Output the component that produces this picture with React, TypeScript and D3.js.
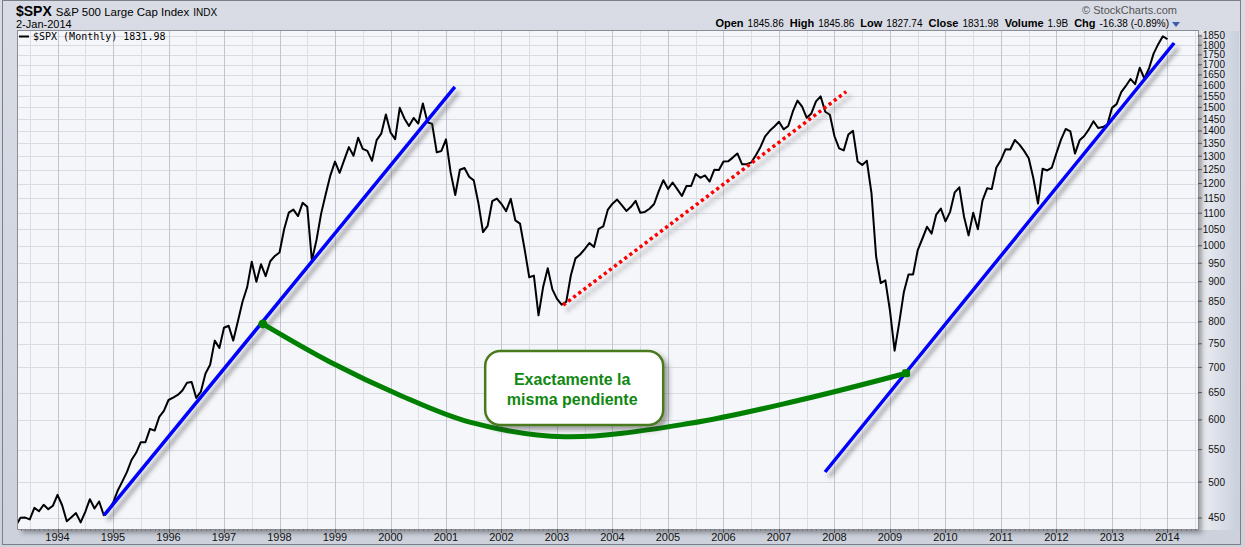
import * as d3 from 'd3'

// monthly closes of $SPX, first value = Apr 1993, last = Jan 2014
const startYear = 1993
const startMonth = 3
const monthlyCloses = [
  440.19, 450.19, 450.53, 448.13, 463.56, 458.93, 467.83, 461.79, 466.45,
  481.61, 467.14, 445.77, 450.91, 456.5, 444.27, 458.26, 475.49, 462.69, 472.35, 453.69, 459.27,
  470.42, 487.39, 500.71, 514.71, 533.4, 544.75, 562.06, 561.88, 584.41, 581.5, 605.37, 615.93,
  636.02, 640.43, 645.5, 654.17, 669.12, 670.63, 639.95, 651.99, 687.31, 705.27, 757.02, 740.74,
  786.16, 790.82, 757.12, 801.34, 848.28, 885.14, 954.29, 899.47, 947.28, 914.62, 955.4, 970.43,
  980.28, 1049.34, 1101.75, 1111.75, 1090.82, 1133.84, 1120.67, 957.28, 1017.01, 1098.67, 1163.63, 1229.23,
  1279.64, 1238.33, 1286.37, 1335.18, 1301.84, 1372.71, 1328.72, 1320.41, 1282.71, 1362.93, 1388.91, 1469.25,
  1394.46, 1366.42, 1498.58, 1452.43, 1420.6, 1454.6, 1430.83, 1517.68, 1436.51, 1429.4, 1314.95, 1320.28,
  1366.01, 1239.94, 1160.33, 1249.46, 1255.82, 1224.42, 1211.23, 1133.58, 1040.94, 1059.78, 1139.45, 1148.08,
  1130.2, 1106.73, 1147.39, 1076.92, 1067.14, 989.82, 911.62, 916.07, 815.28, 885.76, 936.31, 879.82,
  855.7, 841.15, 848.18, 916.92, 963.59, 974.5, 990.31, 1008.01, 995.97, 1050.71, 1058.2, 1111.92,
  1131.13, 1144.94, 1126.21, 1107.3, 1120.68, 1140.84, 1101.72, 1104.24, 1114.58, 1130.2, 1173.82, 1211.92,
  1181.27, 1203.6, 1180.59, 1156.85, 1191.5, 1191.33, 1234.18, 1220.33, 1228.81, 1207.01, 1249.48, 1248.29,
  1280.08, 1280.66, 1294.83, 1310.61, 1270.09, 1270.2, 1276.66, 1303.82, 1335.85, 1377.94, 1400.63, 1418.3,
  1438.24, 1406.82, 1420.86, 1482.37, 1530.62, 1503.35, 1455.27, 1473.99, 1526.75, 1549.38, 1481.14, 1468.36,
  1378.55, 1330.63, 1322.7, 1385.59, 1400.38, 1280.0, 1267.38, 1282.83, 1166.36, 968.75, 896.24, 903.25,
  825.88, 735.09, 797.87, 872.81, 919.14, 919.32, 987.48, 1020.62, 1057.08, 1036.19, 1095.63, 1115.1,
  1073.87, 1104.49, 1169.43, 1186.69, 1089.41, 1030.71, 1101.6, 1049.33, 1141.2, 1183.26, 1180.55, 1257.64,
  1286.12, 1327.22, 1325.83, 1363.61, 1345.2, 1320.64, 1292.28, 1218.89, 1131.42, 1253.3, 1246.96, 1257.6,
  1312.41, 1365.68, 1408.47, 1397.91, 1310.33, 1362.16, 1379.32, 1406.58, 1440.67, 1412.16, 1416.18, 1426.19,
  1498.11, 1514.68, 1569.19, 1597.57, 1630.74, 1606.28, 1685.73, 1632.97, 1681.55, 1756.54, 1805.81, 1848.36,
  1831.98,
]

const priceTicks = [
  450, 500, 550, 600, 650, 700, 750, 800, 850, 900, 950, 1000, 1050, 1100, 1150,
  1200, 1250, 1300, 1350, 1400, 1450, 1500, 1550, 1600, 1650, 1700, 1750, 1800, 1850,
]
const yearTicks = d3.range(1994, 2015)

// hand-drawn annotations, in (decimal year, price)
const blueLineA = [{ t: 1994.84, v: 453.7 }, { t: 2001.16, v: 1593 }]
const blueLineB = [{ t: 2007.83, v: 515 }, { t: 2014.12, v: 1812 }]
const redLine = [{ t: 2003.11, v: 840 }, { t: 2008.21, v: 1571 }]
const greenCurve = [
  { t: 1997.7, v: 795 }, { t: 1998.91, v: 711 }, { t: 2000.17, v: 645 }, { t: 2001.43, v: 596 },
  { t: 2003.14, v: 571 }, { t: 2005.4, v: 594 }, { t: 2007.38, v: 636 }, { t: 2009.29, v: 688 },
]
const callout = { t: 2003.31, v: 659, lines: ['Exactamente la', 'misma pendiente'] }

const headerStats = [
  { label: 'Open', value: '1845.86' },
  { label: 'High', value: '1845.86' },
  { label: 'Low', value: '1827.74' },
  { label: 'Close', value: '1831.98' },
  { label: 'Volume', value: '1.9B' },
  { label: 'Chg', value: '-16.38 (-0.89%)' },
]

const W = 1245
const H = 547
const left = 18
const top = 31
const right = 1198
const bottom = 529
const font = '"Liberation Sans", Arial, sans-serif'

type Pt = { t: number; v: number }

export default function App() {
  const x = d3.scaleLinear().domain([1993.288, 2014.55]).range([left, right])
  const y = d3.scaleLog().domain([435.7, 1877]).range([bottom, top])

  const points: Pt[] = monthlyCloses.map((v, i) => ({ t: startYear + (startMonth + i) / 12, v }))
  const line = d3.line<Pt>().x(d => x(d.t)).y(d => y(d.v))
  const curve = d3.line<Pt>().x(d => x(d.t)).y(d => y(d.v)).curve(d3.curveCatmullRom.alpha(0.5))

  const halfYears = d3.range(1993.5, 2014.6, 1)
  const monthTicks = d3.range(Math.ceil(1993.288 * 12), Math.floor(2014.55 * 12) + 1).map(m => m / 12)

  const cx = x(callout.t)
  const cy = y(callout.v)
  const boxW = 178
  const boxH = 74

  return (
    <div style={{ position: 'fixed', left: 0, top: 0 }}>
      <svg width={W} height={H} style={{ display: 'block' }}>
        <defs>
          <linearGradient id="bg" x1="0" y1="0" x2="0" y2="1">
            <stop offset="0%" stopColor="#d9dce5" />
            <stop offset="100%" stopColor="#ccd1dc" />
          </linearGradient>
          <linearGradient id="raxis" x1="0" y1="0" x2="1" y2="0">
            <stop offset="0%" stopColor="#eef0f5" />
            <stop offset="100%" stopColor="#c9cfdb" />
          </linearGradient>
          <filter id="shadow" filterUnits="userSpaceOnUse" x="0" y="0" width={W} height={H}>
            <feDropShadow dx="4" dy="5" stdDeviation="2.2" floodColor="#404040" floodOpacity="0.5" />
          </filter>
          <filter id="boxShadow" filterUnits="userSpaceOnUse" x="0" y="0" width={W} height={H}>
            <feDropShadow dx="4" dy="4" stdDeviation="2.5" floodColor="#303030" floodOpacity="0.45" />
          </filter>
          <clipPath id="plotClip">
            <rect x={left} y={top} width={right - left} height={bottom - top} />
          </clipPath>
        </defs>

        {/* frame */}
        <rect x={0} y={0} width={W} height={H} fill="url(#bg)" />
        <rect x={right} y={top} width={W - right - 6} height={bottom - top + 1} fill="url(#raxis)" />
        <rect x={2.5} y={0.5} width={W - 7} height={H - 3} fill="none" stroke="#7b7f88" />

        {/* plot area */}
        <rect x={left} y={top} width={right - left} height={bottom - top} fill="#f5f6fa" filter="url(#boxShadow)" />

        <g>
          {priceTicks.map(p => (
            <line key={p} x1={left} x2={right} y1={Math.round(y(p)) + 0.5} y2={Math.round(y(p)) + 0.5} stroke="#d9dbe2" />
          ))}
          {halfYears.map(t => (
            <line key={t} x1={Math.round(x(t)) + 0.5} x2={Math.round(x(t)) + 0.5} y1={top} y2={bottom} stroke="#dcdee5" />
          ))}
          {yearTicks.map(t => (
            <line key={t} x1={Math.round(x(t)) + 0.5} x2={Math.round(x(t)) + 0.5} y1={top} y2={bottom} stroke="#c3c5ce" />
          ))}
        </g>

        <rect x={left - 0.5} y={top - 0.5} width={right - left + 1} height={bottom - top + 1} fill="none" stroke="#8a8d96" />

        {/* right axis */}
        {priceTicks.map(p => (
          <g key={p} transform={`translate(0,${y(p)})`}>
            <line x1={right} x2={right + 4} stroke="#555" />
            <text x={1225} dy="0.35em" textAnchor="end" fontFamily={font} fontSize={10} fill="#111">{p}</text>
          </g>
        ))}

        {/* bottom axis */}
        {monthTicks.map(t => (
          <line key={t} x1={Math.round(x(t)) + 0.5} x2={Math.round(x(t)) + 0.5} y1={bottom} y2={bottom + 2} stroke="#777" />
        ))}
        {yearTicks.map(t => (
          <g key={t}>
            <line x1={Math.round(x(t)) + 0.5} x2={Math.round(x(t)) + 0.5} y1={bottom} y2={bottom + 4} stroke="#555" />
            <text x={x(t)} y={541} textAnchor="middle" fontFamily={font} fontSize={11} fill="#111">{t}</text>
          </g>
        ))}

        {/* price */}
        <g clipPath="url(#plotClip)">
          <path d={line(points) ?? ''} fill="none" stroke="#000" strokeWidth={2} strokeLinejoin="round" />

          <path d={line(blueLineA) ?? ''} stroke="#0000ff" strokeWidth={3.5} filter="url(#shadow)" />
          <path d={line(blueLineB) ?? ''} stroke="#0000ff" strokeWidth={3.5} filter="url(#shadow)" />
          <path d={line(redLine) ?? ''} stroke="#ff0000" strokeWidth={3.5} strokeDasharray="3.2 3.2" filter="url(#shadow)" />

          <path d={curve(greenCurve) ?? ''} fill="none" stroke="#008000" strokeWidth={5} strokeLinecap="butt" />
          <circle cx={x(greenCurve[0].t)} cy={y(greenCurve[0].v)} r={4.5} fill="#008000" />
          <rect
            x={x(greenCurve[greenCurve.length - 1].t) - 4}
            y={y(greenCurve[greenCurve.length - 1].v) - 4}
            width={8}
            height={8}
            rx={2}
            fill="#008000"
          />

          <rect
            x={cx - boxW / 2}
            y={cy - boxH / 2}
            width={boxW}
            height={boxH}
            rx={15}
            fill="#ffffff"
            stroke="#4a7a1c"
            strokeWidth={2.5}
            filter="url(#boxShadow)"
          />
          {callout.lines.map((s, i) => (
            <text
              key={s}
              x={cx - 2}
              y={cy - 3 + i * 20}
              textAnchor="middle"
              fontFamily={font}
              fontWeight="bold"
              fontSize={16}
              fill="#118811"
            >
              {s}
            </text>
          ))}
        </g>

        {/* legend */}
        <line x1={19} x2={29} y1={36.5} y2={36.5} stroke="#000" strokeWidth={2} />
        <text x={33} y={40} fontFamily='"DejaVu Sans Mono", monospace' fontSize={10} fill="#000">$SPX (Monthly) 1831.98</text>

        {/* header */}
        <text x={16} y={16} fontFamily={font} fill="#000">
          <tspan fontWeight="bold" fontSize={14}>$SPX</tspan>
          <tspan dx={4} fontSize={11.5}>S&amp;P 500 Large Cap Index</tspan>
          <tspan dx={4} fontSize={10}>INDX</tspan>
        </text>
        <text x={16} y={28} fontFamily={font} fontSize={11} fill="#000">2-Jan-2014</text>

        <text x={1177} y={14} textAnchor="end" fontFamily={font} fontSize={11} fill="#555">© StockCharts.com</text>
        <text x={1169} y={27} textAnchor="end" fontFamily={font} fill="#000">
          {headerStats.map((s, i) => (
            <tspan key={s.label}>
              <tspan dx={i === 0 ? 0 : 6} fontWeight="bold" fontSize={11}>{s.label}</tspan>
              <tspan dx={4} fontSize={10}>{s.value}</tspan>
            </tspan>
          ))}
        </text>
        <path d="M1172,22 L1180,22 L1176,27 Z" fill="#3b5ea8" />
      </svg>
    </div>
  )
}
